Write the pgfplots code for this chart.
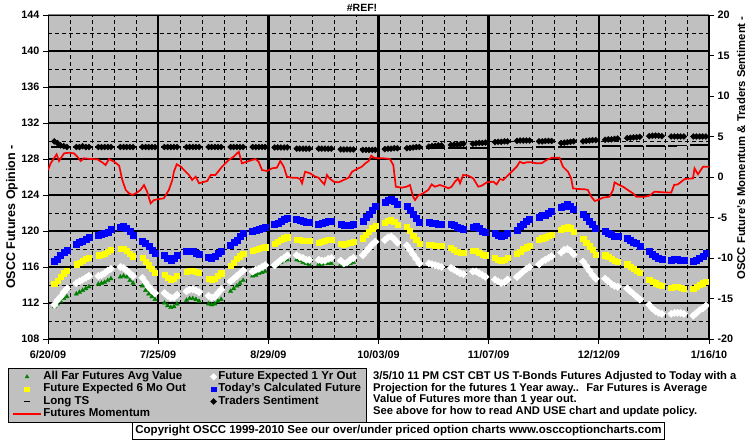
\documentclass[border=0pt]{standalone}
\usepackage{fontspec}
\setmainfont{Liberation Sans}
\usepackage{pgfplots}
\pgfplotsset{compat=1.18}
\usepackage{pgfplotstable}
\definecolor{bgray}{RGB}{192,192,192}
\definecolor{dgreen}{RGB}{0,128,0}
\definecolor{xblue}{RGB}{0,0,255}
\definecolor{xyellow}{RGB}{255,255,0}
\definecolor{xred}{RGB}{255,0,0}
\newcommand{\tf}{\bfseries\fontsize{11.5}{12}\selectfont}
\newcommand{\tb}{\bfseries\fontsize{11.2}{12}\selectfont}

\pgfplotstableread{
d g yel blu wht sen lts
2 111.6 114.1 116.6 111.8 4.4 3.7
3 111.9 114.5 116.9 112.3 4.2 3.7
4 112.2 114.9 117.3 112.7 3.9 3.7
5 112.5 115.3 117.6 113.2 3.8 3.7
6 112.7 115.6 117.9 113.6 3.7 3.7
9 113.0 116.3 118.5 114.2 3.7 3.7
10 113.2 116.5 118.7 114.4 3.7 3.7
11 113.4 116.7 118.9 114.6 3.8 3.7
12 113.6 116.9 119.1 114.8 3.7 3.7
13 113.8 117.0 119.3 115.0 3.7 3.7
16 114.1 117.3 119.5 115.0 3.7 3.7
17 114.2 117.4 119.6 115.1 3.7 3.7
18 114.3 117.5 119.7 115.3 3.7 3.7
19 114.5 117.7 119.9 115.6 3.7 3.7
20 114.7 117.9 120.2 115.8 3.7 3.7
23 114.9 118.0 120.4 116.0 3.7 3.7
24 115.0 118.0 120.5 115.9 3.7 3.7
25 114.9 117.8 120.3 115.6 3.7 3.7
26 114.5 117.5 120.0 115.3 3.7 3.7
27 114.2 117.2 119.5 115.0 3.7 3.7
30 113.9 117.0 118.9 114.8 3.7 3.7
31 113.4 116.6 118.6 114.3 3.7 3.7
32 113.0 116.2 118.3 113.8 3.7 3.7
33 112.7 115.8 117.9 113.4 3.7 3.7
34 112.4 115.4 117.5 113.1 3.7 3.7
37 112.0 115.1 117.3 113.1 3.7 3.7
38 111.7 114.8 117.0 112.8 3.7 3.7
39 111.5 114.6 116.8 112.6 3.7 3.7
40 111.6 114.7 117.0 112.6 3.7 3.7
41 111.9 115.0 117.3 112.9 3.7 3.7
44 112.3 115.5 117.8 113.3 3.7 3.7
45 112.5 115.6 117.8 113.5 3.7 3.7
46 112.5 115.6 117.7 113.5 3.7 3.7
47 112.4 115.5 117.5 113.4 3.7 3.7
48 112.2 115.4 117.4 113.2 3.7 3.7
51 111.9 114.7 117.1 112.8 3.7 3.7
52 111.8 114.6 117.0 112.6 3.7 3.7
53 111.9 114.7 117.2 112.7 3.7 3.7
54 112.2 115.0 117.5 113.1 3.7 3.7
55 112.4 115.3 117.8 113.5 3.7 3.7
58 113.3 116.1 118.4 114.4 3.7 3.7
59 113.6 116.5 118.7 114.7 3.7 3.7
60 113.9 116.9 119.0 115.0 3.7 3.7
61 114.2 117.2 119.4 115.3 3.7 3.7
62 114.5 117.5 119.7 115.6 3.7 3.7
65 115.0 117.8 120.0 115.5 3.7 3.7
66 115.1 117.9 120.1 115.7 3.7 3.7
67 115.3 118.0 120.2 115.8 3.7 3.7
68 115.4 118.1 120.3 116.0 3.7 3.7
69 115.5 118.2 120.4 116.2 3.7 3.7
72 116.1 118.6 120.7 116.2 3.65 3.7
73 116.3 118.8 120.9 116.5 3.65 3.7
74 116.5 119.0 121.1 116.8 3.65 3.7
75 116.7 119.2 121.3 117.0 3.65 3.7
76 116.8 119.3 121.4 117.3 3.65 3.7
79 116.8 119.0 121.3 117.3 3.5 3.45
80 116.7 119.0 121.2 117.1 3.5 3.45
81 116.5 118.9 121.1 117.0 3.5 3.45
82 116.4 118.9 121.0 116.8 3.5 3.45
83 116.3 118.9 121.0 116.8 3.5 3.45
86 116.3 118.7 120.8 116.8 3.5 3.45
87 116.3 118.8 120.9 116.7 3.5 3.45
88 116.4 118.9 121.0 116.7 3.5 3.45
89 116.4 119.0 121.1 116.9 3.5 3.45
90 116.4 119.0 121.1 117.0 3.5 3.45
93 116.3 118.6 120.7 116.7 3.4 3.45
94 116.2 118.5 120.6 116.4 3.4 3.45
95 116.3 118.6 120.6 116.5 3.4 3.45
96 116.4 118.7 120.6 116.8 3.4 3.45
97 116.5 118.8 120.7 117.0 3.4 3.45
100 nan 119.2 121.1 117.3 3.35 3.45
101 nan 119.6 121.5 117.7 3.35 3.45
102 nan 119.9 121.9 118.1 3.35 3.45
103 nan 120.3 122.3 118.5 3.35 3.45
104 nan 120.6 122.7 118.8 3.35 3.45
107 nan 120.9 123.2 119.0 3.45 3.5
108 nan 121.1 123.4 119.3 3.5 3.5
109 nan 121.2 123.5 119.4 3.5 3.5
110 nan 121.0 123.3 119.1 3.55 3.5
111 nan 120.7 123.0 118.7 3.55 3.5
114 nan 120.5 122.7 118.4 3.55 3.55
115 nan 120.0 122.3 117.9 3.6 3.55
116 nan 119.5 121.9 117.4 3.65 3.55
117 nan 119.0 121.4 116.9 3.7 3.55
118 nan 118.6 121.0 116.4 3.7 3.55
121 nan 118.5 121.0 116.4 3.75 3.6
122 nan 118.5 120.9 116.3 3.8 3.6
123 nan 118.4 120.9 116.2 3.85 3.6
124 nan 118.4 120.8 116.1 3.9 3.6
125 nan 118.4 120.8 116.0 3.9 3.6
128 nan 118.1 120.7 115.9 3.95 3.6
129 nan 117.9 120.6 115.7 4.0 3.6
130 nan 117.7 120.4 115.5 4.0 3.6
131 nan 117.6 120.3 115.3 4.05 3.6
132 nan 117.6 120.2 115.2 4.1 3.6
135 nan 117.8 120.4 115.5 4.1 3.62
136 nan 117.8 120.5 115.5 4.15 3.62
137 nan 117.6 120.3 115.3 4.2 3.62
138 nan 117.4 120.0 115.1 4.2 3.62
139 nan 117.3 119.9 114.9 4.25 3.62
142 nan 117.0 119.7 114.6 4.3 3.65
143 nan 116.8 119.5 114.4 4.35 3.65
144 nan 116.7 119.4 114.2 4.35 3.65
145 nan 116.8 119.5 114.3 4.4 3.65
146 nan 117.0 119.7 114.6 4.4 3.65
149 nan 117.5 120.1 114.9 4.45 3.65
150 nan 117.7 120.5 115.2 4.5 3.65
151 nan 118.0 120.8 115.5 4.5 3.65
152 nan 118.2 121.1 115.8 4.5 3.65
153 nan 118.4 121.3 116.0 4.5 3.65
156 nan 119.0 121.5 116.3 4.4 3.7
157 nan 119.2 121.7 116.6 4.4 3.7
158 nan 119.3 121.8 116.8 4.45 3.7
159 nan 119.5 122.0 117.0 4.45 3.7
160 nan 119.6 122.2 117.2 4.45 3.7
163 nan 120.1 122.6 117.6 4.2 3.72
164 nan 120.3 122.8 117.9 4.25 3.72
165 nan 120.5 123.0 118.0 4.3 3.72
166 nan 120.3 122.8 117.8 4.35 3.72
167 nan 119.9 122.4 117.4 4.4 3.72
170 nan 119.1 121.9 116.6 4.4 3.75
171 nan 118.7 121.5 116.1 4.45 3.75
172 nan 118.3 121.1 115.6 4.5 3.75
173 nan 117.9 120.7 115.1 4.55 3.75
174 nan 117.4 120.3 114.7 4.55 3.75
177 nan 117.3 120.0 114.7 4.6 3.78
178 nan 117.1 119.8 114.4 4.65 3.78
179 nan 116.9 119.6 114.1 4.65 3.78
180 nan 116.7 119.4 113.9 4.7 3.78
181 nan 116.6 119.4 113.8 4.75 3.78
184 nan 116.3 119.2 113.6 4.8 3.8
185 nan 116.0 119.0 113.3 4.85 3.8
186 nan 115.8 118.8 113.0 4.9 3.8
187 nan 115.6 118.6 112.7 4.9 3.8
188 nan 115.4 118.3 112.4 4.95 3.8
191 nan 114.6 117.7 111.8 5.05 3.82
192 nan 114.4 117.4 111.4 5.1 3.82
193 nan 114.2 117.2 111.1 5.1 3.82
194 nan 114.0 117.0 110.9 5.1 3.82
195 nan 113.9 116.9 110.8 5.05 3.82
198 nan 113.7 116.8 110.8 5.0 3.85
199 nan 113.8 116.9 110.9 5.0 3.85
200 nan 113.8 116.9 110.9 5.0 3.9
201 nan 113.7 116.8 110.9 5.0 3.9
202 nan 113.6 116.8 110.8 5.0 3.9
205 nan 113.6 116.6 110.6 5.0 3.95
206 nan 113.8 116.8 110.9 5.0 3.95
207 nan 114.0 117.0 111.2 5.0 3.95
208 nan 114.2 117.2 111.4 5.0 3.95
209 nan 114.4 117.5 111.7 5.0 3.95
}\data

\begin{document}
\begin{tikzpicture}[x=1pt,y=1pt]
\useasboundingbox (0,0) rectangle (755,446);
\fill[white] (0,0) rectangle (755,446);

\begin{axis}[
  at={(48pt,107pt)}, anchor=south west, scale only axis,
  width=661pt, height=324pt,
  xmin=0, xmax=210, ymin=108, ymax=144,
  axis background/.style={fill=bgray},
  axis x line*=bottom, axis y line*=left,
  axis line style={black, line width=0.9pt},
  xtick={0,35,70,105,140,175,210},
  xticklabels={6/20/09,7/25/09,8/29/09,10/03/09,11/07/09,12/12/09,1/16/10},
  xticklabel style={yshift=-3pt},
  minor xtick={7,14,21,28,42,49,56,63,77,84,91,98,112,119,126,133,147,154,161,168,182,189,196,203},
  ytick={108,112,...,144},
  yticklabels={108,112,116,120,124,128,132,136,140,144},
  minor ytick={110,114,...,142},
  xminorgrids=true, ymajorgrids=true, yminorgrids=true,
  major y grid style={black, line width=1.1pt},
  minor y grid style={black, line width=0.8pt, dash pattern=on 4pt off 3pt},
  minor x grid style={black, line width=0.8pt, dash pattern=on 4pt off 3pt},
  tick align=outside, major tick length=5pt, minor tick length=0pt,
  tick style={black, line width=0.9pt},
  tick label style={font=\bfseries\fontsize{10.8}{12}\selectfont},
  clip=true,
]
\pgfplotsinvokeforeach{35,70,105,140,175,210}{
  \draw[black, line width=2.4pt] (axis cs:#1,108) -- (axis cs:#1,144);
}
\draw[gray, line width=1pt] (rel axis cs:0,1) -- (rel axis cs:1,1);
\addplot[only marks, mark=triangle*, mark size=2.5pt, color=dgreen] table[x=d,y=g]{\data};
\addplot[only marks, mark=square*, mark size=2.6pt, mark options={rotate=45}, color=white] table[x=d,y=wht]{\data};
\addplot[only marks, mark=square*, mark size=2.6pt, color=xyellow] table[x=d,y=yel]{\data};
\addplot[only marks, mark=square*, mark size=3pt, color=xblue] table[x=d,y=blu]{\data};
\end{axis}

\begin{axis}[
  at={(48pt,107pt)}, anchor=south west, scale only axis,
  width=661pt, height=324pt,
  xmin=0, xmax=210, ymin=-20, ymax=20,
  axis y line*=right, axis x line=none,
  axis line style={black, line width=0.9pt},
  ytick={-20,-15,...,20},
  yticklabels={-20,-15,-10,-5,0,5,10,15,20},
  tick align=outside, major tick length=5pt,
  tick style={black, line width=0.9pt},
  tick label style={font=\bfseries\fontsize{10.8}{12}\selectfont},
  legend image code/.code={\draw[mark repeat=2,mark phase=2,#1] plot coordinates {(0pt,0pt) (14pt,0pt) (28pt,0pt)};},
  legend columns=2,
  legend cell align=left,
  legend style={at={(axis description cs:-0.0605,-0.0895)}, anchor=north west,
    fill=bgray, draw=black, font=\tf, inner xsep=4pt, inner ysep=2.5pt,
    nodes={inner xsep=1.5pt, inner ysep=0pt, text height=9pt, text depth=3.3pt},
    /tikz/every even column/.append style={column sep=23pt}},
]
\addlegendimage{only marks, mark=triangle*, mark size=2.2pt, color=dgreen}
\addlegendentry{All Far Futures Avg Value}
\addlegendimage{only marks, mark=square*, mark size=2.3pt, mark options={rotate=45}, color=white}
\addlegendentry{Future Expected 1 Yr Out}
\addlegendimage{only marks, mark=square*, mark size=2.4pt, color=xyellow}
\addlegendentry{Future Expected 6 Mo Out}
\addlegendimage{only marks, mark=square*, mark size=2.4pt, color=xblue}
\addlegendentry{Today's Calculated Future}
\addplot[only marks, mark=-, mark size=3pt, color=black, mark options={line width=1.8pt}] table[x=d,y=lts]{\data};
\addlegendentry{Long TS}
\addplot[only marks, mark=square*, mark size=2.1pt, mark options={rotate=45}, color=black] table[x=d,y=sen]{\data};
\addlegendentry{Traders Sentiment}
\addplot[color=xred, draw=xred, line width=1.7pt, no marks] coordinates {
(0,0.86)(0.85,1.69)(2.75,2.8)(3.5,1.98)(5.1,2.92)(6.67,3.0)(8.26,2.92)(9.3,2.51)(10.4,1.98)(11.4,2.31)(13.6,2.22)(15.7,2.18)(17.2,1.81)(18.3,1.48)(19.4,2.22)(21.0,1.89)(22.6,1.40)(23.6,-0.37)(24.7,-1.6)(25.7,-2.01)(26.8,-2.22)(27.9,-2.01)(29.4,-1.6)(30.5,-0.99)(31.5,-1.81)(32.6,-3.25)(33.7,-2.84)(35.3,-2.72)(36.8,-2.63)(38.4,-1.6)(39.5,-0.37)(40.0,0.65)(40.9,1.57)(42.2,1.27)(43.2,0.86)(44.8,0.25)(45.8,-0.37)(46.9,0.04)(48.0,-0.78)(49.0,-0.66)(50.6,-0.49)(51.7,0.25)(53.2,0.25)(55.3,1.27)(57.4,2.10)(59.0,2.51)(60.6,3.12)(61.6,1.69)(63.2,1.89)(64.8,2.10)(65.9,2.22)(66.9,1.89)(68.0,0.86)(69.6,0.74)(71.2,1.07)(72.7,1.15)(73.8,1.98)(74.9,1.27)(75.9,0.04)(77.5,-0.09)(79.1,-0.09)(80.1,-0.25)(80.7,-0.78)(81.7,0.65)(83.3,0.45)(84.9,0.04)(86.0,-0.09)(87.0,-0.58)(87.8,-0.91)(88.6,0.25)(89.4,-0.17)(90.8,-0.58)(92.3,-0.66)(93.9,-0.37)(95.5,-0.09)(96.6,0.65)(98.2,0.99)(99.7,1.27)(100.8,1.69)(101.9,1.98)(102.7,2.63)(103.5,2.38)(105.1,2.31)(106.7,2.31)(108.6,2.22)(109.7,1.48)(110.5,-1.2)(112.4,-1.32)(113.9,-1.2)(115.0,-0.99)(116.0,-2.43)(116.6,-2.84)(117.6,-2.3)(119.2,-2.01)(120.8,-1.6)(121.9,-0.91)(122.9,-1.2)(124.5,-0.99)(126.1,-1.2)(127.2,-1.4)(128.2,-1.2)(129.3,-0.58)(130.3,-0.17)(130.9,-0.78)(131.9,0.25)(133.5,0.16)(135.1,-0.17)(136.7,-1.2)(137.8,-1.07)(139.4,-0.66)(141.5,-0.58)(142.5,-0.91)(143.6,-0.25)(144.6,-0.37)(145.7,0.04)(147.3,0.65)(148.9,1.27)(149.9,1.89)(151.0,1.69)(152.1,1.81)(153.7,1.81)(155.2,1.69)(156.8,1.69)(158.4,2.10)(160.1,2.38)(162.5,2.38)(163.6,1.27)(165.2,0.65)(166.2,-0.17)(166.8,-1.4)(168.4,-1.48)(170.5,-1.52)(171.5,-1.6)(172.6,-2.43)(173.7,-2.96)(174.7,-2.84)(176.3,-2.55)(178.4,-2.43)(179.5,-1.6)(180.0,-0.66)(181.1,-0.91)(182.7,-1.2)(184.2,-1.6)(185.8,-2.01)(186.9,-2.43)(189.5,-2.43)(191.1,-2.3)(192.7,-1.81)(195.4,-1.89)(198.0,-1.93)(198.9,-0.99)(200.1,-0.91)(201.2,-0.58)(202.3,-0.25)(204.9,-0.17)(205.4,1.07)(206.5,0.33)(208.1,1.27)(210,1.27)
};
\addlegendentry{Futures Momentum}
\end{axis}

\node[font=\bfseries\fontsize{10.5}{12}\selectfont] at (362,438) {\#REF!};
\node[rotate=90, font=\bfseries\fontsize{12.5}{14}\selectfont] at (12,229) {OSCC Futures Opinion -};
\node[rotate=90, font=\bfseries\fontsize{11.3}{13}\selectfont] at (741,298) {OSCC Future's Momentum \& Traders Sentiment -};

\node[anchor=base west, font=\tb, inner sep=0pt] at (373,66) {3/5/10 11 PM CST CBT US T-Bonds Futures Adjusted to Today with a};
\node[anchor=base west, font=\tb, inner sep=0pt] at (373,54.5) {Projection for the futures 1 Year away.. \ Far Futures is Average};
\node[anchor=base west, font=\tb, inner sep=0pt] at (373,43) {Value of Futures more than 1 year out.};
\node[anchor=base west, font=\tb, inner sep=0pt] at (373,31.5) {See above for how to read AND USE chart and update policy.};
\node[anchor=north west, draw=black, fill=white, line width=0.8pt, font=\tf, inner xsep=3pt, inner ysep=3pt] at (132,24) {Copyright OSCC 1999-2010 See our over/under priced option charts www.osccoptioncharts.com};
\end{tikzpicture}
\end{document}
